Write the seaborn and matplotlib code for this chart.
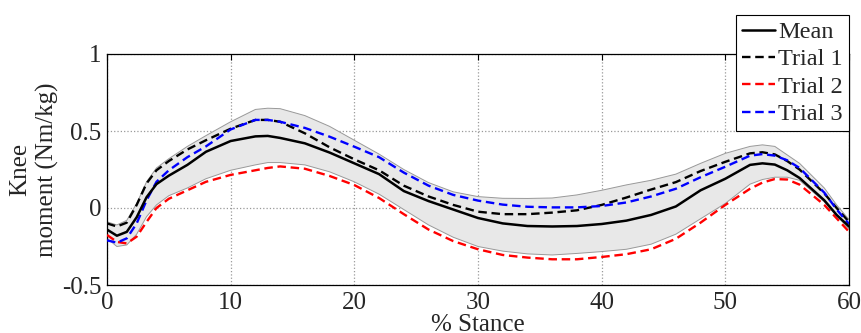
import matplotlib.pyplot as plt
import numpy as np
import seaborn as sns

# % stance sample points
stance = [0, 0.8, 1.6, 2.4, 3.2, 4, 5, 6.5, 8, 10, 12, 13, 14, 16, 18, 20, 22, 24, 26, 28,
          30, 32, 34, 36, 38, 40, 42, 44, 46, 48, 50, 52, 53, 54, 55, 56, 58, 59, 60]

mean_moment = [-0.14, -0.18, -0.155, -0.06, 0.07, 0.155, 0.21, 0.28, 0.365, 0.435, 0.465, 0.468,
               0.455, 0.42, 0.36, 0.29, 0.22, 0.11, 0.045, -0.01, -0.065, -0.10, -0.117, -0.12,
               -0.117, -0.104, -0.082, -0.045, 0.01, 0.115, 0.19, 0.28, 0.29, 0.282, 0.245, 0.195,
               0.05, -0.045, -0.12]

trial1 = [-0.10, -0.12, -0.095, 0.02, 0.16, 0.245, 0.305, 0.38, 0.44, 0.515, 0.572, 0.572,
          0.56, 0.485, 0.394, 0.316, 0.245, 0.145, 0.075, 0.02, -0.024, -0.04, -0.04, -0.03,
          -0.015, 0.02, 0.068, 0.12, 0.168, 0.24, 0.30, 0.355, 0.362, 0.348, 0.305, 0.25,
          0.095, 0.0, -0.09]

trial2 = [-0.175, -0.22, -0.23, -0.186, -0.09, 0.0, 0.06, 0.115, 0.17, 0.215, 0.245, 0.26,
          0.27, 0.255, 0.208, 0.149, 0.065, -0.04, -0.14, -0.215, -0.268, -0.305, -0.322, -0.333,
          -0.333, -0.318, -0.30, -0.268, -0.20, -0.095, 0.02, 0.125, 0.165, 0.188, 0.185, 0.152,
          0.02, -0.067, -0.154]

trial3 = [-0.21, -0.225, -0.197, -0.10, 0.05, 0.17, 0.245, 0.33, 0.40, 0.51, 0.572, 0.572,
          0.56, 0.52, 0.463, 0.398, 0.33, 0.23, 0.145, 0.085, 0.048, 0.022, 0.008, 0.004,
          0.004, 0.013, 0.036, 0.075, 0.125, 0.20, 0.268, 0.34, 0.35, 0.34, 0.31, 0.26,
          0.10, -0.009, -0.104]

band_upper = [-0.09, -0.11, -0.08, 0.03, 0.17, 0.26, 0.32, 0.40, 0.47, 0.56, 0.64, 0.648,
              0.645, 0.60, 0.53, 0.44, 0.35, 0.25, 0.165, 0.105, 0.074, 0.063, 0.062, 0.065,
              0.085, 0.115, 0.15, 0.18, 0.22, 0.29, 0.355, 0.40, 0.41, 0.40, 0.345, 0.29,
              0.13, 0.02, -0.075]

band_lower = [-0.197, -0.25, -0.24, -0.17, -0.056, 0.02, 0.08, 0.13, 0.19, 0.245, 0.28, 0.295,
              0.295, 0.28, 0.235, 0.17, 0.09, -0.01, -0.11, -0.19, -0.25, -0.28, -0.298, -0.305,
              -0.295, -0.283, -0.268, -0.235, -0.17, -0.07, 0.03, 0.155, 0.185, 0.2, 0.2, 0.18,
              0.04, -0.05, -0.135]

sns.set_style("white")
plt.rcParams['font.family'] = ['Liberation Serif', 'DejaVu Serif']
plt.rcParams['font.size'] = 18

fig = plt.figure(figsize=(8.61, 3.33), dpi=100)
ax = fig.add_axes([107 / 861, 1 - 285 / 333, 742 / 861, 231 / 333])

x = np.array(stance)
ax.fill_between(x, band_lower, band_upper, facecolor='#e8e8e8', edgecolor='none', zorder=1)
ax.plot(x, band_upper, color='#999999', lw=0.7, zorder=2)
ax.plot(x, band_lower, color='#999999', lw=0.7, zorder=2)

dash = (3.6, 2.0)
sns.lineplot(x=x, y=mean_moment, ax=ax, color='black', lw=1.8, label='Mean', zorder=4)
sns.lineplot(x=x, y=trial1, ax=ax, color='black', lw=1.7, dashes=dash, label='Trial 1', zorder=3)
sns.lineplot(x=x, y=trial2, ax=ax, color='#ff0000', lw=1.7, dashes=dash, label='Trial 2', zorder=3)
sns.lineplot(x=x, y=trial3, ax=ax, color='#0000ff', lw=1.7, dashes=dash, label='Trial 3', zorder=3)

ax.set_xlim(0, 60)
ax.set_ylim(-0.5, 1)
ax.set_xticks([0, 10, 20, 30, 40, 50, 60])
ax.set_yticks([-0.5, 0, 0.5, 1])
ax.set_yticklabels(['-0.5', '0', '0.5', '1'])
ax.grid(True, linestyle=':', color='#999999', lw=0.9)
ax.tick_params(axis='both', direction='in', length=4, top=True, right=True, labelsize=18, color='black')
ax.tick_params(axis='x', pad=5)
ax.tick_params(axis='y', pad=4)
for s in ax.spines.values():
    s.set_color('black')
    s.set_linewidth(0.9)

ax.set_xlabel('% Stance', fontsize=18, labelpad=0)
ax.set_ylabel('Knee\nmoment (Nm/kg)', fontsize=18, labelpad=2, linespacing=1.3)

leg = ax.legend(loc='upper right', bbox_to_anchor=(849 / 861, 1 - 15 / 333),
                bbox_transform=fig.transFigure, borderaxespad=0, fontsize=17.5,
                handlelength=1.35, handletextpad=0.15, labelspacing=0.22, borderpad=0.25,
                fancybox=False, framealpha=1, edgecolor='black')
leg.get_frame().set_linewidth(0.8)

fig.savefig('out.png', dpi=100)
